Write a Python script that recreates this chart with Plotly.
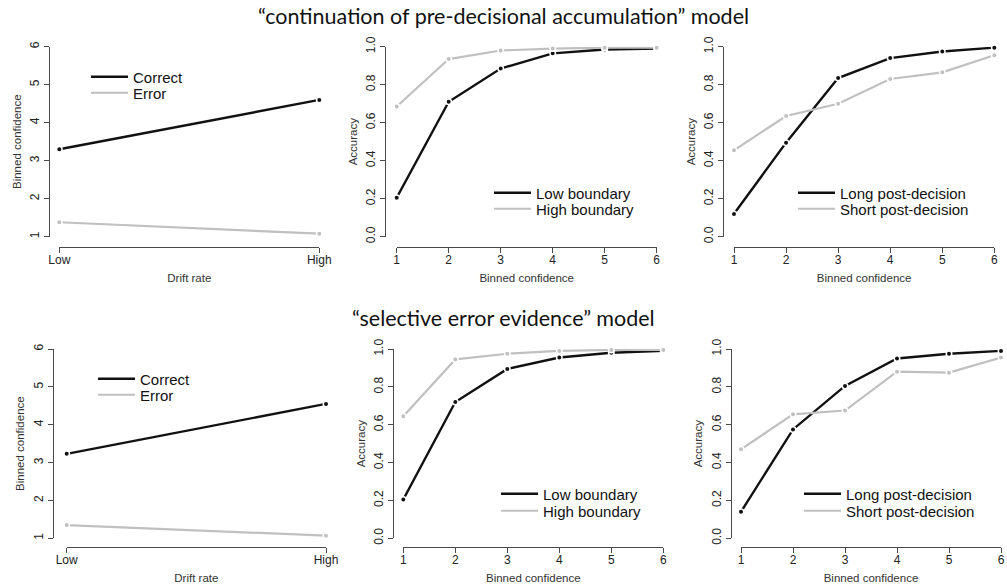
import plotly.graph_objects as go

# ---------------- data ----------------
row_titles = ["\u201ccontinuation of pre-decisional accumulation\u201d model",
              "\u201cselective error evidence\u201d model"]

drift_levels = ["Low", "High"]
conf_bins = [1, 2, 3, 4, 5, 6]
drift_ticks = ["Low", "High"]
conf_ticks = [1, 2, 3, 4, 5, 6]
binconf_ticks = [1, 2, 3, 4, 5, 6]
acc_ticks = [0.0, 0.2, 0.4, 0.6, 0.8, 1.0]
acc_ticklabels = ["0.0", "0.2", "0.4", "0.6", "0.8", "1.0"]

# top row: "continuation of pre-decisional accumulation"
top_correct = [3.30, 4.60]
top_error = [1.38, 1.08]
top_low_boundary = [0.205, 0.71, 0.885, 0.965, 0.985, 0.99]
top_high_boundary = [0.685, 0.935, 0.98, 0.99, 0.995, 0.995]
top_long_post = [0.12, 0.495, 0.835, 0.94, 0.975, 0.995]
top_short_post = [0.455, 0.635, 0.70, 0.83, 0.865, 0.955]

# bottom row: "selective error evidence"
bot_correct = [3.23, 4.55]
bot_error = [1.35, 1.07]
bot_low_boundary = [0.205, 0.72, 0.895, 0.955, 0.98, 0.99]
bot_high_boundary = [0.645, 0.945, 0.975, 0.99, 0.995, 0.995]
bot_long_post = [0.14, 0.575, 0.805, 0.95, 0.975, 0.99]
bot_short_post = [0.47, 0.655, 0.675, 0.88, 0.875, 0.955]

# ---------------- layout geometry (pixels) ----------------
W, H = 1007, 584
def fx(x):
    return x / W
def fy(y):
    return 1 - y / H

BLACK = "#111111"
GRAY = "#c0c0c0"
AXC = "#4a4a4a"
FONT = "Liberation Sans, Arial, sans-serif"

# each panel: x-span of first..last tick, y-span top..bottom, axis line positions, legend anchors
panels = [
    dict(x0=59.3, x1=319.3, yt=46.7, yb=236.7, yline=49, xline=246.7, legx=90, legy=(77, 93), kind="drift"),
    dict(x0=396.7, x1=656.7, yt=46.7, yb=236.7, yline=385, xline=246.5, legx=493, legy=(193, 209), kind="acc"),
    dict(x0=734.0, x1=994.3, yt=46.7, yb=236.7, yline=723, xline=246.5, legx=797, legy=(193, 209), kind="acc"),
    dict(x0=66.7, x1=326.0, yt=349.0, yb=538.3, yline=52.7, xline=546.7, legx=97, legy=(379, 395), kind="drift"),
    dict(x0=403.3, x1=663.3, yt=349.0, yb=538.3, yline=393, xline=546.7, legx=500, legy=(494, 511), kind="acc"),
    dict(x0=741.0, x1=1001.0, yt=349.0, yb=538.3, yline=730.7, xline=546.7, legx=803, legy=(494, 511), kind="acc"),
]

series = [
    (drift_levels, [("Correct", top_correct, BLACK), ("Error", top_error, GRAY)]),
    (conf_bins, [("Low boundary", top_low_boundary, BLACK), ("High boundary", top_high_boundary, GRAY)]),
    (conf_bins, [("Long post-decision", top_long_post, BLACK), ("Short post-decision", top_short_post, GRAY)]),
    (drift_levels, [("Correct", bot_correct, BLACK), ("Error", bot_error, GRAY)]),
    (conf_bins, [("Low boundary", bot_low_boundary, BLACK), ("High boundary", bot_high_boundary, GRAY)]),
    (conf_bins, [("Long post-decision", bot_long_post, BLACK), ("Short post-decision", bot_short_post, GRAY)]),
]

fig = go.Figure()
layout = dict(
    width=W, height=H,
    margin=dict(l=0, r=0, t=0, b=0, autoexpand=False),
    paper_bgcolor="white", plot_bgcolor="white",
    font=dict(family=FONT, color="#222222"),
    showlegend=True,
)

legend_count = 0
for i, (p, (xs, trs)) in enumerate(zip(panels, series), start=1):
    sfx = "" if i == 1 else str(i)
    for k, (name, ys, col) in enumerate(trs):
        legend_count += 1
        leg = "legend" if legend_count == 1 else f"legend{legend_count}"
        lw = 2.4 if col == BLACK else 2.2
        # line (shown in legend)
        fig.add_trace(go.Scatter(
            x=xs, y=ys, name=name, mode="lines",
            line=dict(color=col, width=lw),
            xaxis="x" + sfx, yaxis="y" + sfx, legend=leg,
        ))
        # points (with a white ring, like R's type="b")
        fig.add_trace(go.Scatter(
            x=xs, y=ys, name=name, mode="markers", showlegend=False,
            marker=dict(color=col, size=5.5, symbol="circle", line=dict(color="white", width=1.5)),
            xaxis="x" + sfx, yaxis="y" + sfx, cliponaxis=False, hoverinfo="skip",
        ))
        layout[leg] = dict(x=fx(p["legx"] - 4), y=fy(p["legy"][k]), xanchor="left", yanchor="middle",
                           bgcolor="rgba(0,0,0,0)", borderwidth=0, itemwidth=37,
                           tracegroupgap=0, traceorder="normal",
                           font=dict(family=FONT, size=15, color="#111111"))

    common = dict(showline=True, linecolor=AXC, linewidth=1.2, ticks="outside", ticklen=5,
                  tickwidth=1.2, tickcolor=AXC, showgrid=False, zeroline=False,
                  tickfont=dict(family=FONT, size=12, color="#222222"), anchor="free")
    tfont = dict(family=FONT, size=11.5, color="#333333")
    if p["kind"] == "drift":
        xax = dict(common, type="category", categoryorder="array", categoryarray=drift_ticks,
                   range=[0, len(drift_ticks) - 1], ticklabelstandoff=-3,
                   title=dict(text="Drift rate", font=tfont, standoff=7))
        yax = dict(common, range=[1, 6], tickvals=binconf_ticks, tickangle=-90,
                   title=dict(text="Binned confidence", font=tfont, standoff=3))
    else:
        xax = dict(common, range=[conf_ticks[0], conf_ticks[-1]], tickvals=conf_ticks,
                   ticklabelstandoff=-3,
                   title=dict(text="Binned confidence", font=tfont, standoff=7))
        yax = dict(common, range=[0, 1], tickvals=acc_ticks, ticktext=acc_ticklabels, tickangle=-90,
                   title=dict(text="Accuracy", font=tfont, standoff=3))
    xax.update(domain=[fx(p["x0"]), fx(p["x1"])], position=fy(p["xline"]))
    yax.update(domain=[fy(p["yb"]), fy(p["yt"])], position=fx(p["yline"]))
    layout["xaxis" + sfx] = xax
    layout["yaxis" + sfx] = yax

fig.update_layout(**layout)

title_y = [16, 318]
for t, ty in zip(row_titles, title_y):
    fig.add_annotation(text=t, x=fx(503), y=fy(ty), xref="paper", yref="paper",
                       xanchor="center", yanchor="middle", showarrow=False,
                       font=dict(family="Lato, Open Sans, sans-serif", size=21.5, color="#111111"))

fig.write_html("out.html", config={"displayModeBar": False},
               post_script="document.body.style.margin='0px';document.body.style.overflow='hidden';")
